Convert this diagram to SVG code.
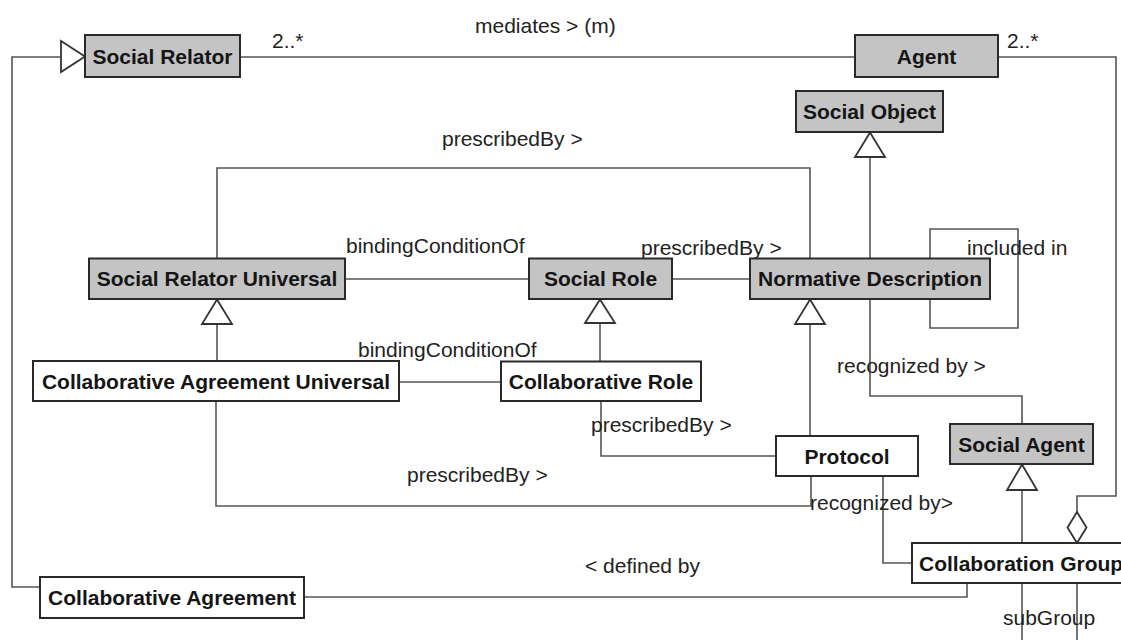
<svg xmlns="http://www.w3.org/2000/svg" width="1121" height="640" viewBox="0 0 1121 640">
  <style>
    .box { stroke: #2a2a2a; stroke-width: 2; }
    .abstract { fill: #c4c4c4; }
    .concrete { fill: #ffffff; }
    .name { font-family: "Liberation Sans", Arial, sans-serif; font-size: 21px; font-weight: bold; fill: #151515; text-anchor: middle; }
    .lbl { font-family: "Liberation Sans", Arial, sans-serif; font-size: 21px; fill: #222222; }
    .wire { fill: none; stroke: #555555; stroke-width: 1.6; }
    .gen { fill: #ffffff; stroke: #333333; stroke-width: 1.8; stroke-linejoin: miter; }
  </style>
  <rect width="1121" height="640" fill="#ffffff"/>

  <!-- associations, generalizations and their labels -->
  <g id="connectors">
    <!-- mediates -->
    <path class="wire" d="M240 57 H855"/>
    <text class="lbl" x="475" y="33">mediates &gt; (m)</text>
    <text class="lbl" x="272" y="48">2..*</text>
    <text class="lbl" x="1007" y="48">2..*</text>

    <!-- Agent aggregated into Collaboration Group -->
    <path class="wire" d="M998 57 H1116 V496 H1077 V512"/>
    <polygon class="gen" points="1077,512 1086.5,527.5 1077,543 1067.5,527.5"/>

    <!-- Collaborative Agreement specializes Social Relator -->
    <path class="wire" d="M40 587 H12 V57 H61"/>
    <polygon class="gen" points="61,41 85,56.5 61,72"/>

    <!-- Collaborative Agreement Universal specializes Social Relator Universal -->
    <path class="wire" d="M217 324 V361"/>
    <polygon class="gen" points="217,299.5 232,324 202,324"/>

    <!-- Collaborative Role specializes Social Role -->
    <path class="wire" d="M600 323 V362"/>
    <polygon class="gen" points="600,299.5 615,323 585,323"/>

    <!-- Protocol specializes Normative Description -->
    <path class="wire" d="M810 324 V436"/>
    <polygon class="gen" points="810,299.5 825,324 795,324"/>

    <!-- Normative Description specializes Social Object -->
    <path class="wire" d="M870 157 V259"/>
    <polygon class="gen" points="870,132.5 885,157 855,157"/>

    <!-- Collaboration Group specializes Social Agent -->
    <path class="wire" d="M1022 490 V543"/>
    <polygon class="gen" points="1022,464.5 1037,490 1007,490"/>

    <!-- bindingConditionOf (universal level) -->
    <path class="wire" d="M345 279 H529"/>
    <text class="lbl" x="346" y="253">bindingConditionOf</text>

    <!-- Social Role prescribedBy Normative Description -->
    <path class="wire" d="M672 279 H750"/>
    <text class="lbl" x="641" y="255">prescribedBy &gt;</text>

    <!-- bindingConditionOf (collaborative level) -->
    <path class="wire" d="M399 382 H501"/>
    <text class="lbl" x="358" y="357">bindingConditionOf</text>

    <!-- Social Relator Universal prescribedBy Normative Description -->
    <path class="wire" d="M217 258 V168 H810 V259"/>
    <text class="lbl" x="442" y="146">prescribedBy &gt;</text>

    <!-- included in (self loop) -->
    <path class="wire" d="M930 259 V229 H1018 V328 H930 V299"/>
    <text class="lbl" x="967" y="255">included in</text>

    <!-- Normative Description recognized by Social Agent -->
    <path class="wire" d="M870 299 V396 H1022 V424"/>
    <text class="lbl" x="837" y="373">recognized by &gt;</text>

    <!-- Collaborative Role prescribedBy Protocol -->
    <path class="wire" d="M601 401 V456 H776"/>
    <text class="lbl" x="591" y="432">prescribedBy &gt;</text>

    <!-- Collaborative Agreement Universal prescribedBy Protocol -->
    <path class="wire" d="M216 401 V506 H811 V476"/>
    <text class="lbl" x="407" y="482">prescribedBy &gt;</text>

    <!-- Protocol recognized by Collaboration Group -->
    <path class="wire" d="M883 476 V563 H912"/>
    <text class="lbl" x="810" y="510">recognized by&gt;</text>

    <!-- Collaborative Agreement defined by Collaboration Group -->
    <path class="wire" d="M304 597 H967 V583"/>
    <text class="lbl" x="585" y="573">&lt; defined by</text>

    <!-- subGroup -->
    <path class="wire" d="M1022 583 V640 M1077 583 V640"/>
    <text class="lbl" x="1003" y="625">subGroup</text>
  </g>

  <g id="social-relator">
    <rect class="box abstract" x="85" y="35" width="155" height="42"/>
    <text class="name" x="162.5" y="63.5">Social Relator</text>
  </g>
  <g id="agent">
    <rect class="box abstract" x="855" y="35" width="143" height="42"/>
    <text class="name" x="926.5" y="63.5">Agent</text>
  </g>
  <g id="social-object">
    <rect class="box abstract" x="796" y="91" width="147" height="41"/>
    <text class="name" x="869.5" y="119">Social Object</text>
  </g>
  <g id="social-relator-universal">
    <rect class="box abstract" x="89" y="258.5" width="256" height="40.5"/>
    <text class="name" x="217" y="286">Social Relator Universal</text>
  </g>
  <g id="social-role">
    <rect class="box abstract" x="529" y="258.5" width="143" height="40.5"/>
    <text class="name" x="600.5" y="286">Social Role</text>
  </g>
  <g id="normative-description">
    <rect class="box abstract" x="750" y="258.5" width="240" height="40.5"/>
    <text class="name" x="870" y="286">Normative Description</text>
  </g>
  <g id="collaborative-agreement-universal">
    <rect class="box concrete" x="33" y="361" width="366" height="40"/>
    <text class="name" x="216" y="388.5">Collaborative Agreement Universal</text>
  </g>
  <g id="collaborative-role">
    <rect class="box concrete" x="501" y="361.5" width="200" height="39.5"/>
    <text class="name" x="601" y="388.5">Collaborative Role</text>
  </g>
  <g id="protocol">
    <rect class="box concrete" x="776" y="436" width="142" height="40"/>
    <text class="name" x="847" y="463.5">Protocol</text>
  </g>
  <g id="social-agent">
    <rect class="box abstract" x="950" y="424" width="143" height="40"/>
    <text class="name" x="1021.5" y="451.5">Social Agent</text>
  </g>
  <g id="collaboration-group">
    <rect class="box concrete" x="912" y="543" width="240" height="40"/>
    <text class="name" x="919" y="570.5" style="text-anchor:start">Collaboration Group</text>
  </g>
  <g id="collaborative-agreement">
    <rect class="box concrete" x="40" y="577" width="264" height="41"/>
    <text class="name" x="172" y="605">Collaborative Agreement</text>
  </g>
</svg>
